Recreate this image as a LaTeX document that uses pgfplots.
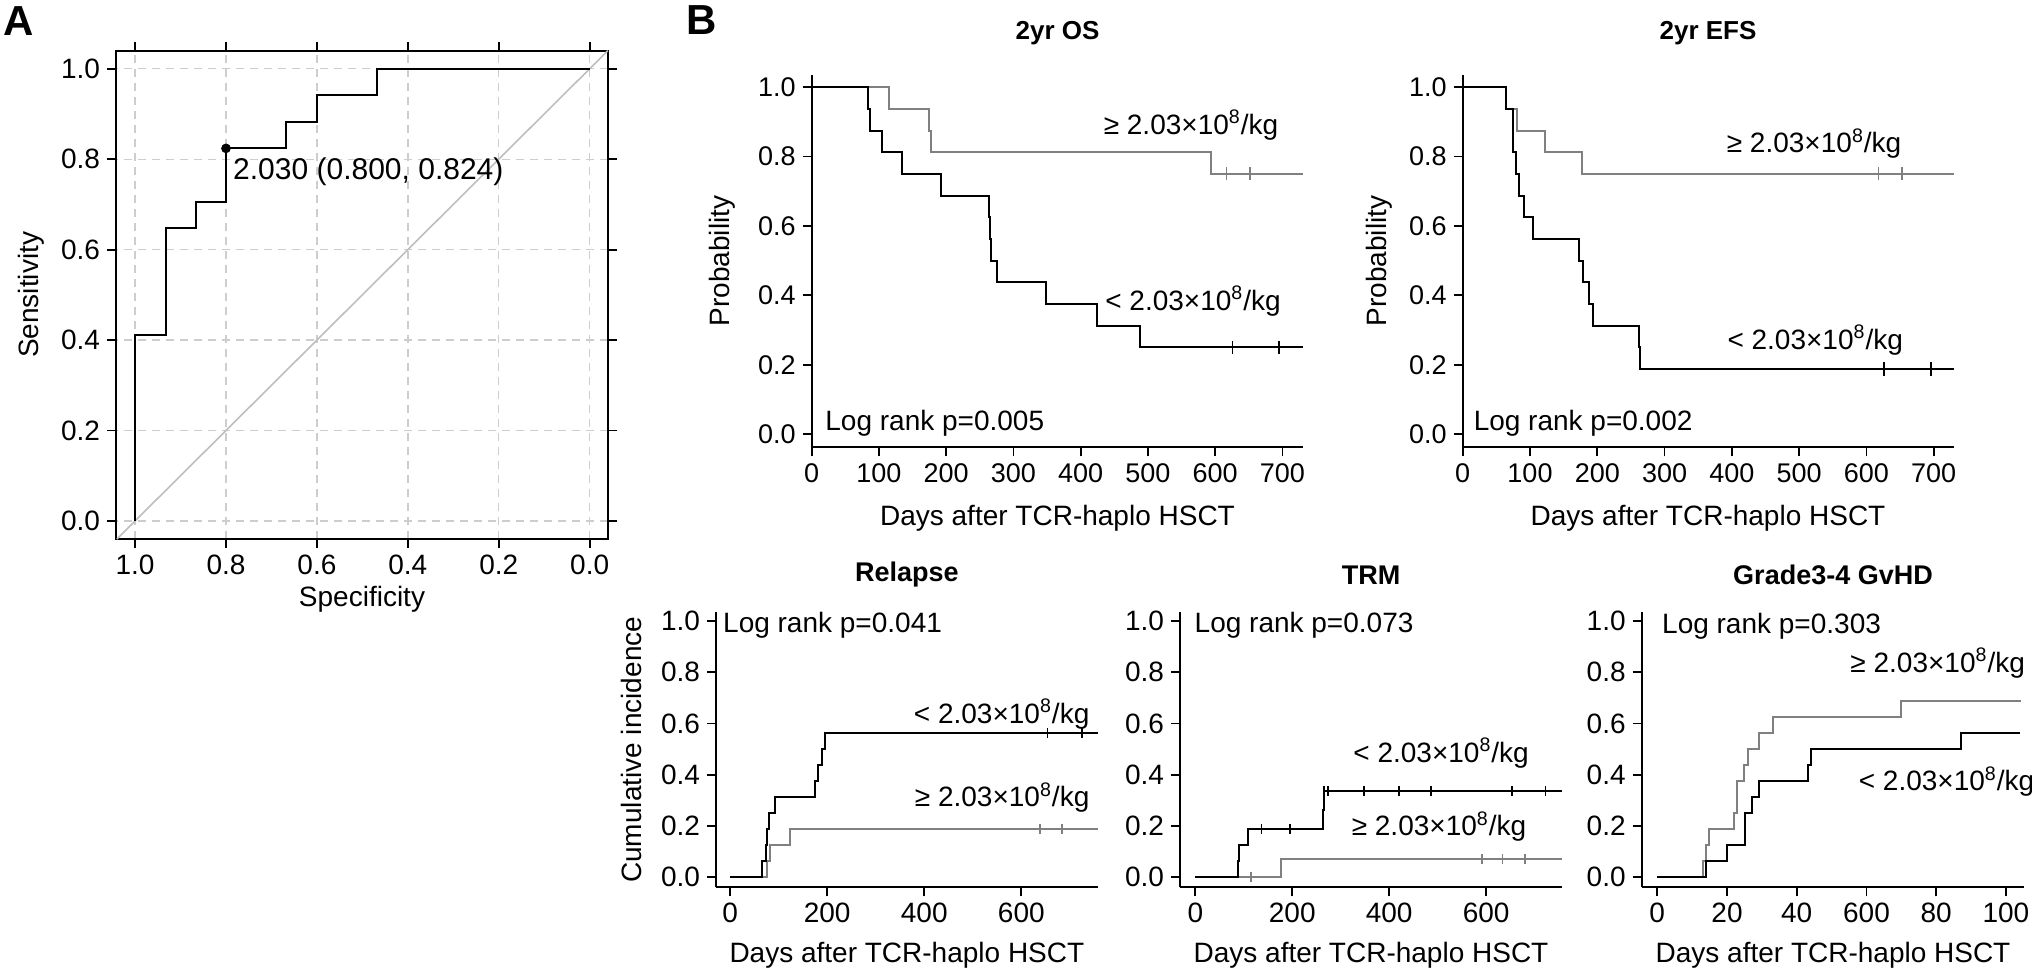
\documentclass[border=0pt]{standalone}
\usepackage{fontspec}
\setmainfont{Liberation Sans}
\usepackage{pgfplots}
\pgfplotsset{compat=1.18}
\newcommand\fs[1]{\fontsize{#1}{#1}\selectfont}
\definecolor{kmgray}{RGB}{128,128,128}
\definecolor{diagc}{RGB}{190,190,190}
\definecolor{gridc}{RGB}{205,205,205}
\tikzset{lab/.style={anchor=west, inner sep=0pt, font=\fs{14}}}
\pgfplotsset{
  basepanel/.style={scale only axis, anchor=south west, clip=false,
    tick align=outside, major tick length=4.5pt,
    tick style={black, line width=0.9pt},
    axis line style={line width=1pt},
    /pgf/number format/assume math mode=true,
    ticklabel style={font=\fs{13.5}},
    yticklabel style={/pgf/number format/.cd, fixed, fixed zerofill, precision=1},
    ytick={0,0.2,0.4,0.6,0.8,1}},
  kmpanel/.style={basepanel, axis x line*=bottom, axis y line*=left},
  toppanel/.style={kmpanel, width=245.8pt, height=186.15pt, ymin=-0.038, ymax=1.035,
    xmin=0, xtick={0,100,200,300,400,500,600,700}},
  botpanel/.style={kmpanel, width=191pt, height=137.5pt, ymin=-0.040, ymax=1.034,
    ticklabel style={font=\fs{14}}},
  blk/.style={black, line width=1pt, const plot},
  gry/.style={kmgray, line width=1pt, const plot},
  cb/.style={black, only marks, mark=|, mark size=#1, mark options={line width=0.8pt}},
  cg/.style={kmgray, only marks, mark=|, mark size=#1, mark options={line width=0.8pt}},
}
\newcommand\gelab{≥ 2.03×10\textsuperscript{8}/kg}
\newcommand\ltlab{< 2.03×10\textsuperscript{8}/kg}
\begin{document}
\begin{tikzpicture}
\path[use as bounding box] (0,0) rectangle (1016pt,485pt);
% ---------------- ROC -----------------
\begin{axis}[basepanel, at={(58pt,215.5pt)}, width=246.15pt, height=244.15pt,
  x dir=reverse, xmin=-0.041, xmax=1.042, ymin=-0.04, ymax=1.04,
  xtick={0,0.2,0.4,0.6,0.8,1},
  xticklabel style={/pgf/number format/.cd, fixed, fixed zerofill, precision=1},
  ticklabel style={font=\fs{14}},
  grid=major, grid style={dashed, gridc, line width=0.7pt, dash pattern=on 4pt off 3pt}]
\addplot[diagc, line width=0.8pt] coordinates {(1.04,-0.04) (-0.04,1.04)};
\addplot[black, line width=1pt] coordinates {(1,0) (1,0.412) (0.933,0.412) (0.933,0.647) (0.867,0.647) (0.867,0.706) (0.8,0.706) (0.8,0.824) (0.667,0.824) (0.667,0.882) (0.6,0.882) (0.6,0.941) (0.467,0.941) (0.467,1) (0,1)};
\addplot[black, only marks, mark=*, mark size=2.2pt] coordinates {(0.8,0.824)};
\node[anchor=west, inner sep=0pt, font=\fs{15}] at (axis cs:0.785,0.773) {2.030 (0.800, 0.824)};
\end{axis}
% ---------------- OS -----------------
\begin{axis}[toppanel, at={(405.85pt,261.35pt)}, xmax=731]
\addplot[gry] coordinates {(0,1) (115,0.9375) (175,0.875) (177.5,0.8125) (594,0.75) (731,0.75)};
\addplot[blk] coordinates {(0,1) (84.3,0.9375) (86,0.875) (104,0.8125) (134,0.75) (192,0.6875) (263,0.625) (264.5,0.5625) (266,0.5) (276,0.4375) (348.5,0.375) (424,0.3125) (488,0.25) (731,0.25)};
\addplot[cg=3.3pt] coordinates {(617,0.75) (652,0.75)};
\addplot[cb=3.3pt] coordinates {(625.7,0.25) (695,0.25)};
\node[lab] at (axis cs:433.7,0.891) {\gelab};
\node[lab] at (axis cs:436,0.384) {\ltlab};
\node[lab] at (axis cs:19.8,0.031) {Log rank p=0.005};
\end{axis}
% ---------------- EFS -----------------
\begin{axis}[toppanel, at={(731.35pt,261.35pt)}, xmax=730.7]
\addplot[gry] coordinates {(0,1) (64,0.9375) (81.4,0.875) (123,0.8125) (178,0.75) (730.7,0.75)};
\addplot[blk] coordinates {(0,1) (64,0.9375) (74,0.875) (75,0.8125) (79.4,0.75) (84,0.6875) (90.4,0.625) (105,0.5625) (173,0.5) (179,0.4375) (188,0.375) (193.6,0.3125) (262,0.25) (263,0.1875) (730.7,0.1875)};
\addplot[cg=3.3pt] coordinates {(618,0.75) (653,0.75)};
\addplot[cb=3.3pt] coordinates {(626.5,0.1875) (696,0.1875)};
\node[lab] at (axis cs:392,0.838) {\gelab};
\node[lab] at (axis cs:393,0.271) {\ltlab};
\node[lab] at (axis cs:15.8,0.031) {Log rank p=0.002};
\end{axis}
% ---------------- Relapse -----------------
\begin{axis}[botpanel, at={(358pt,41.35pt)}, xmin=-29, xmax=758, xtick={0,200,400,600}]
\addplot[gry] coordinates {(0,0) (76,0.0625) (82,0.125) (124,0.1875) (758,0.1875)};
\addplot[blk] coordinates {(0,0) (65.5,0.0625) (73.8,0.125) (77,0.1875) (80,0.25) (91.7,0.3125) (174.5,0.375) (181,0.4375) (189.7,0.5) (195,0.5625) (758,0.5625)};
\addplot[cg=2.5pt] coordinates {(638,0.1875) (684,0.1875)};
\addplot[cb=2.5pt] coordinates {(654,0.5625) (725,0.5625)};
\node[lab] at (axis cs:378,0.637) {\ltlab};
\node[lab] at (axis cs:380,0.311) {\gelab};
\node[lab] at (axis cs:-15,0.982) {Log rank p=0.041};
\end{axis}
% ---------------- TRM -----------------
\begin{axis}[botpanel, at={(590pt,41.35pt)}, xmin=-31.5, xmax=756.5, xtick={0,200,400,600}]
\addplot[gry] coordinates {(0,0) (176.5,0.069) (756.5,0.069)};
\addplot[blk] coordinates {(0,0) (88.5,0.0625) (90.5,0.125) (109,0.1875) (263.6,0.26) (265,0.338) (756.5,0.338)};
\addplot[cg=2.5pt] coordinates {(114.7,0) (591.6,0.069) (634,0.069) (679.6,0.069)};
\addplot[cb=2.5pt] coordinates {(136.6,0.1875) (195,0.1875) (265.5,0.338) (274,0.338) (348,0.338) (420,0.338) (486,0.338) (652.7,0.338) (722.5,0.338)};
\node[lab] at (axis cs:325.4,0.484) {\ltlab};
\node[lab] at (axis cs:322,0.197) {\gelab};
\node[lab] at (axis cs:-2,0.984) {Log rank p=0.073};
\end{axis}
% ---------------- GvHD -----------------
\begin{axis}[botpanel, at={(820.85pt,41.35pt)}, xmin=-4.46, xmax=105.1, xtick={0,20,40,60,80,100}, xticklabels={0,20,40,600,80,100}]
\addplot[gry] coordinates {(0,0) (13,0.0625) (14.1,0.125) (14.8,0.1875) (22.1,0.25) (23,0.375) (25,0.4375) (26,0.5) (29.1,0.5625) (33.1,0.625) (70,0.6875) (104.4,0.6875)};
\addplot[blk] coordinates {(0,0) (14.1,0.0625) (20.1,0.125) (25.1,0.25) (27.1,0.3125) (29.1,0.375) (43.1,0.4375) (44.1,0.5) (87.1,0.5625) (104.1,0.5625)};
\node[lab] at (axis cs:55.3,0.836) {\gelab};
\node[lab] at (axis cs:57.7,0.373) {\ltlab};
\node[lab] at (axis cs:1.3,0.98) {Log rank p=0.303};
\end{axis}
% ---------------- texts -----------------
\node[font=\fs{21}\bfseries] at (9.5pt,474.5pt) {A};
\node[font=\fs{21}\bfseries] at (351pt,475pt) {B};
\node[font=\fs{14}, rotate=90] at (15.8pt,337.6pt) {Sensitivity};
\node[font=\fs{14}] at (181pt,185.5pt) {Specificity};
\node[font=\fs{13}\bfseries] at (528.75pt,468.5pt) {2yr OS};
\node[font=\fs{13}\bfseries] at (854pt,468.5pt) {2yr EFS};
\node[font=\fs{14}, rotate=90] at (361.35pt,354.5pt) {Probability};
\node[font=\fs{14}, rotate=90] at (689.5pt,354.5pt) {Probability};
\node[font=\fs{14}] at (528.75pt,226pt) {Days after TCR-haplo HSCT};
\node[font=\fs{14}] at (854pt,226pt) {Days after TCR-haplo HSCT};
\node[font=\fs{13.5}\bfseries] at (453.45pt,197.5pt) {Relapse};
\node[font=\fs{13.5}\bfseries] at (685.5pt,197.5pt) {TRM};
\node[font=\fs{13.5}\bfseries] at (916.5pt,197.5pt) {Grade3-4 GvHD};
\node[font=\fs{14}, rotate=90] at (315.85pt,110.1pt) {Cumulative incidence};
\node[font=\fs{14}] at (453.45pt,7.5pt) {Days after TCR-haplo HSCT};
\node[font=\fs{14}] at (685.5pt,7.5pt) {Days after TCR-haplo HSCT};
\node[font=\fs{14}] at (916.5pt,7.5pt) {Days after TCR-haplo HSCT};
\end{tikzpicture}
\end{document}
